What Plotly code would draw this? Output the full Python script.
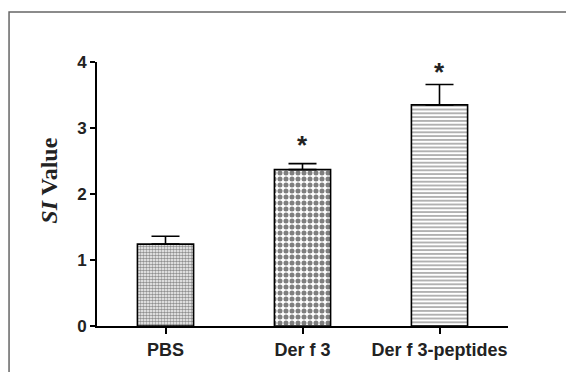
import plotly.graph_objects as go

categories = ["PBS", "Der f 3", "Der f 3-peptides"]
values = [1.24, 2.37, 3.35]
errors = [0.12, 0.09, 0.31]
stars = ["", "*", "*"]
star_y = [None, 2.80, 3.91]
y_ticks = [0, 1, 2, 3, 4]

patterns = [
    dict(shape=".", size=3, solidity=0.6, fgcolor="#222222", bgcolor="white", fillmode="overlay"),
    dict(shape=".", size=6, solidity=0.55, fgcolor="#000000", bgcolor="white", fillmode="overlay"),
    dict(shape="-", size=3.8, solidity=0.42, fgcolor="#444444", bgcolor="white", fillmode="overlay"),
]

fig = go.Figure()
for i, c in enumerate(categories):
    fig.add_trace(go.Bar(
        x=[c], y=[values[i]],
        width=0.41,
        marker=dict(color="white", pattern=patterns[i], line=dict(color="black", width=1.6)),
        error_y=dict(type="data", array=[errors[i]], arrayminus=[0], symmetric=False,
                     color="black", thickness=1.6, width=14),
        showlegend=False,
    ))

for i, c in enumerate(categories):
    if stars[i]:
        fig.add_annotation(x=c, y=star_y[i], text="<b>" + stars[i] + "</b>",
                           showarrow=False, yanchor="middle", yshift=-4,
                           font=dict(family="Liberation Sans", size=26, color="#222"))

# y-axis title (placed slightly above centre, as in the reference)
fig.add_annotation(xref="paper", yref="paper", x=-0.117, y=0.55,
                   text="<b><i>SI</i> Value</b>", textangle=-90, showarrow=False,
                   xanchor="center", yanchor="middle",
                   font=dict(family="Liberation Serif", size=24, color="#222"))

# outer frame
fig.add_shape(type="rect", xref="paper", yref="paper",
              x0=-0.214, x1=1.153, y0=-0.25, y1=1.189,
              line=dict(color="#666666", width=1.5), layer="below")

# page body adds an 8px margin; the figure is sized to compensate
fig.update_layout(
    width=566, height=364,
    margin=dict(l=89, r=66, t=54, b=46),
    paper_bgcolor="white", plot_bgcolor="white",
    xaxis=dict(
        range=[-0.5, 2.5], showline=True, linecolor="black", linewidth=2,
        ticks="outside", ticklen=6, tickwidth=2, tickcolor="black",
        tickfont=dict(family="Liberation Sans", size=18, color="#222", weight="bold"),
        showgrid=False, zeroline=False,
    ),
    yaxis=dict(
        range=[0, 4], tickvals=y_ticks, showline=True, linecolor="black", linewidth=2,
        ticks="outside", ticklen=5, tickwidth=2, tickcolor="black",
        tickfont=dict(family="Liberation Sans", size=17, color="#222", weight="bold"),
        showgrid=False, zeroline=False,
    ),
)

fig.write_html("out.html")
